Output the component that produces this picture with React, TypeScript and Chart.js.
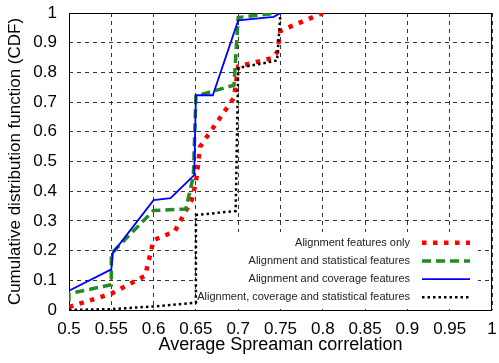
import React, { useEffect, useRef } from 'react';
import { Chart, registerables } from 'chart.js';

Chart.register(...registerables);

const seriesNames = [
  'Alignment features only',
  'Alignment and statistical features',
  'Alignment and coverage features',
  'Alignment, coverage and statistical features',
];

const alignOnlyX = [0.5, 0.55, 0.59, 0.6, 0.625, 0.645, 0.65, 0.655, 0.695, 0.7, 0.74, 0.746, 0.75, 0.8];
const alignOnlyY = [0.01, 0.055, 0.115, 0.235, 0.265, 0.37, 0.43, 0.55, 0.715, 0.82, 0.848, 0.868, 0.94, 1.0];

const alignStatX = [0.5, 0.5, 0.55, 0.55, 0.6, 0.638, 0.647, 0.65, 0.695, 0.7, 0.748];
const alignStatY = [0.03, 0.055, 0.085, 0.19, 0.335, 0.34, 0.45, 0.72, 0.757, 0.985, 1.0];

const alignCovX = [0.5, 0.55, 0.552, 0.6, 0.62, 0.648, 0.65, 0.67, 0.7, 0.742, 0.75];
const alignCovY = [0.065, 0.137, 0.193, 0.37, 0.377, 0.454, 0.723, 0.723, 0.975, 0.987, 1.0];

const allFeatX = [0.5, 0.55, 0.6, 0.65, 0.65, 0.697, 0.7, 0.746, 0.75];
const allFeatY = [0.0, 0.003, 0.012, 0.025, 0.32, 0.333, 0.815, 0.84, 1.0];

const xTicks = [0.5, 0.55, 0.6, 0.65, 0.7, 0.75, 0.8, 0.85, 0.9, 0.95, 1];
const yTicks = [0, 0.1, 0.2, 0.3, 0.4, 0.5, 0.6, 0.7, 0.8, 0.9, 1];

const FONT = "'Liberation Sans', Arial, sans-serif";

function pts(xs: number[], ys: number[]) {
  return xs.map((x, i) => ({ x, y: ys[i] }));
}

function zeroPadding(scale: any) {
  scale.paddingTop = 0;
  scale.paddingBottom = 0;
  scale.paddingLeft = 0;
  scale.paddingRight = 0;
}

export default function App() {
  const ref = useRef<HTMLCanvasElement>(null);

  useEffect(() => {
    document.body.style.margin = '0';
    const canvas = ref.current;
    if (!canvas) return;

    const boxPlugin = {
      id: 'boxPlugin',
      beforeDatasetsDraw(chart: any) {
        const { ctx, chartArea } = chart;
        const { left, top, right, bottom } = chartArea;
        ctx.save();
        ctx.fillStyle = '#fff';
        ctx.fillRect(right - 295, bottom - 78, 281, 77);
        ctx.strokeStyle = '#000';
        ctx.lineWidth = 1;
        ctx.setLineDash([]);
        ctx.strokeRect(Math.round(left) + 0.5, Math.round(top) + 0.5, Math.round(right - left) - 1, Math.round(bottom - top));
        ctx.restore();
      },
      afterDatasetsDraw(chart: any) {
        const { ctx, chartArea } = chart;
        const { right, bottom } = chartArea;
        ctx.save();
        ctx.font = `11px ${FONT}`;
        ctx.textAlign = 'right';
        ctx.textBaseline = 'middle';
        chart.data.datasets.forEach((ds: any, i: number) => {
          const y = bottom - 67.3 + i * 18.2;
          ctx.fillStyle = '#222';
          ctx.fillText(seriesNames[i], right - 82, y);
          ctx.beginPath();
          ctx.strokeStyle = ds.borderColor;
          ctx.lineWidth = ds.borderWidth;
          ctx.setLineDash(ds.borderDash || []);
          ctx.lineCap = 'butt';
          ctx.moveTo(right - 70, y);
          ctx.lineTo(right - 22, y);
          ctx.stroke();
        });
        ctx.restore();
      },
    };

    const chart = new Chart(canvas, {
      type: 'line',
      data: {
        datasets: [
          {
            label: seriesNames[0],
            data: pts(alignOnlyX, alignOnlyY),
            borderColor: 'rgb(255,0,0)',
            borderWidth: 4.5,
            borderDash: [4.5, 6.5],
            order: 4,
          },
          {
            label: seriesNames[1],
            data: pts(alignStatX, alignStatY),
            borderColor: 'rgb(34,139,34)',
            borderWidth: 3.5,
            borderDash: [9, 5],
            order: 3,
          },
          {
            label: seriesNames[2],
            data: pts(alignCovX, alignCovY),
            borderColor: 'rgb(0,0,255)',
            borderWidth: 1.8,
            borderDash: [],
            order: 2,
          },
          {
            label: seriesNames[3],
            data: pts(allFeatX, allFeatY),
            borderColor: 'rgb(0,0,0)',
            borderWidth: 2.5,
            borderDash: [2.5, 3],
            order: 1,
          },
        ] as any,
      },
      options: {
        responsive: false,
        animation: false,
        devicePixelRatio: 1,
        layout: { padding: { top: 13, right: 7, left: 0, bottom: 0 } },
        elements: {
          point: { radius: 0 },
          line: { tension: 0, borderCapStyle: 'butt', borderJoinStyle: 'miter' },
        },
        plugins: {
          legend: { display: false },
          tooltip: { enabled: false },
        },
        scales: {
          x: {
            type: 'linear',
            min: 0.5,
            max: 1,
            afterBuildTicks: (scale: any) => {
              scale.ticks = xTicks.map((v) => ({ value: v }));
            },
            afterFit: (scale: any) => {
              scale.height = 53;
              zeroPadding(scale);
            },
            ticks: {
              color: '#000',
              font: { family: FONT, size: 17 },
              padding: 9,
              maxRotation: 0,
              autoSkip: false,
              callback: (v: any) => String(v),
            },
            grid: { color: '#333', lineWidth: 1, drawTicks: false },
            border: { display: false, dash: [4, 4] },
            title: {
              display: true,
              text: 'Average Spreaman correlation',
              color: '#000',
              font: { family: FONT, size: 18 },
              padding: { top: 0, bottom: 7 },
            },
          },
          y: {
            type: 'linear',
            min: 0,
            max: 1,
            afterBuildTicks: (scale: any) => {
              scale.ticks = yTicks.map((v) => ({ value: v }));
            },
            afterFit: (scale: any) => {
              scale.width = 69;
              zeroPadding(scale);
            },
            ticks: {
              color: '#000',
              font: { family: FONT, size: 17 },
              padding: 12,
              autoSkip: false,
              callback: (v: any) => String(v),
            },
            grid: { color: '#333', lineWidth: 1, drawTicks: false },
            border: { display: false, dash: [4, 4] },
            title: {
              display: true,
              text: 'Cumulative distribution function (CDF)',
              color: '#000',
              font: { family: FONT, size: 17 },
              padding: { top: 5, bottom: 0 },
            },
          },
        },
      } as any,
      plugins: [boxPlugin],
    });

    return () => chart.destroy();
  }, []);

  return (
    <div style={{ position: 'absolute', left: 0, top: 0, width: 499, height: 363 }}>
      <canvas ref={ref} width={499} height={363} style={{ width: 499, height: 363 }} />
    </div>
  );
}
